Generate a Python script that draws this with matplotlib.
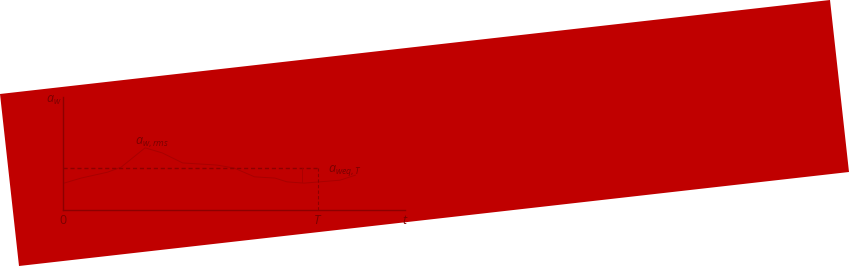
import matplotlib
matplotlib.use("Agg")
import matplotlib.pyplot as plt
from matplotlib.patches import Polygon

plt.rcParams.update({
    "font.family": ["Open Sans", "DejaVu Sans"],
    "mathtext.fontset": "custom",
    "mathtext.it": "Open Sans:italic",
    "mathtext.rm": "Open Sans",
})

# weighted acceleration signal (t normalised to end of record, a in units of a_weq)
t_vals = [0.003, 0.053, 0.13, 0.17, 0.24, 0.29, 0.35, 0.45, 0.50, 0.56, 0.62, 0.655, 0.705, 0.75, 0.81, 0.855]
a_vals = [0.64, 0.76, 0.90, 1.02, 1.48, 1.36, 1.12, 1.07, 1.00, 0.79, 0.76, 0.67, 0.64, 0.67, 0.71, 0.83]
a_weq = 1.0
T_mark = 0.746
tick_labels = ["0", "T", "t"]
tick_pos = [0.0, T_mark, 1.0]

W, H = 850, 266
BG = "#c00000"
LINE = "#8c0000"
CURVE = "#a80000"
TEXT = "#7a0000"

fig = plt.figure(figsize=(W / 100, H / 100), dpi=100)
fig.patch.set_facecolor("white")

# tilted red backdrop (pixel corners, y from top)
corners = [(0, 94), (830, 0), (849, 172), (19, 266)]
poly = Polygon([(x / W, 1 - y / H) for x, y in corners], closed=True,
               transform=fig.transFigure, facecolor=BG, edgecolor="none", zorder=0)
fig.patches.append(poly)

ax = fig.add_axes([63 / W, 1 - 210 / H, 342 / W, 113 / H])
ax.set_zorder(5)
ax.patch.set_alpha(0)
ax.set_xlim(0, 1)
ax.set_ylim(0, 113 / 42)
for s in ["top", "right"]:
    ax.spines[s].set_visible(False)
for s in ["left", "bottom"]:
    ax.spines[s].set_color(LINE)
    ax.spines[s].set_linewidth(1.0)
ax.set_xticks([])
ax.set_yticks([])

ax.plot(t_vals, a_vals, color=CURVE, lw=0.7)
ax.plot([0, T_mark], [a_weq, a_weq], color=LINE, lw=1.0, dashes=(3, 2))
ax.plot([T_mark, T_mark], [0, a_weq], color=LINE, lw=0.8, dashes=(3, 2))
ax.plot([0.70, 0.70], [a_weq, 0.66], color=CURVE, lw=0.6)

for lab, p in zip(tick_labels, tick_pos):
    ax.text(p, -0.1, lab if lab == "0" else f"${lab}$", ha="center", va="top",
            fontsize=9, color=TEXT, clip_on=False)

ax.text(-0.05, 2.6, r"$a_w$", fontsize=9, color=TEXT, ha="left", va="center", clip_on=False)
ax.text(0.21, 1.62, r"$a_{w,rms}$", fontsize=9, color=TEXT, ha="left", va="center")
ax.text(0.775, 0.95, r"$a_{weq,T}$", fontsize=9, color=TEXT, ha="left", va="center")

fig.savefig("out.png", dpi=100, facecolor="white")
